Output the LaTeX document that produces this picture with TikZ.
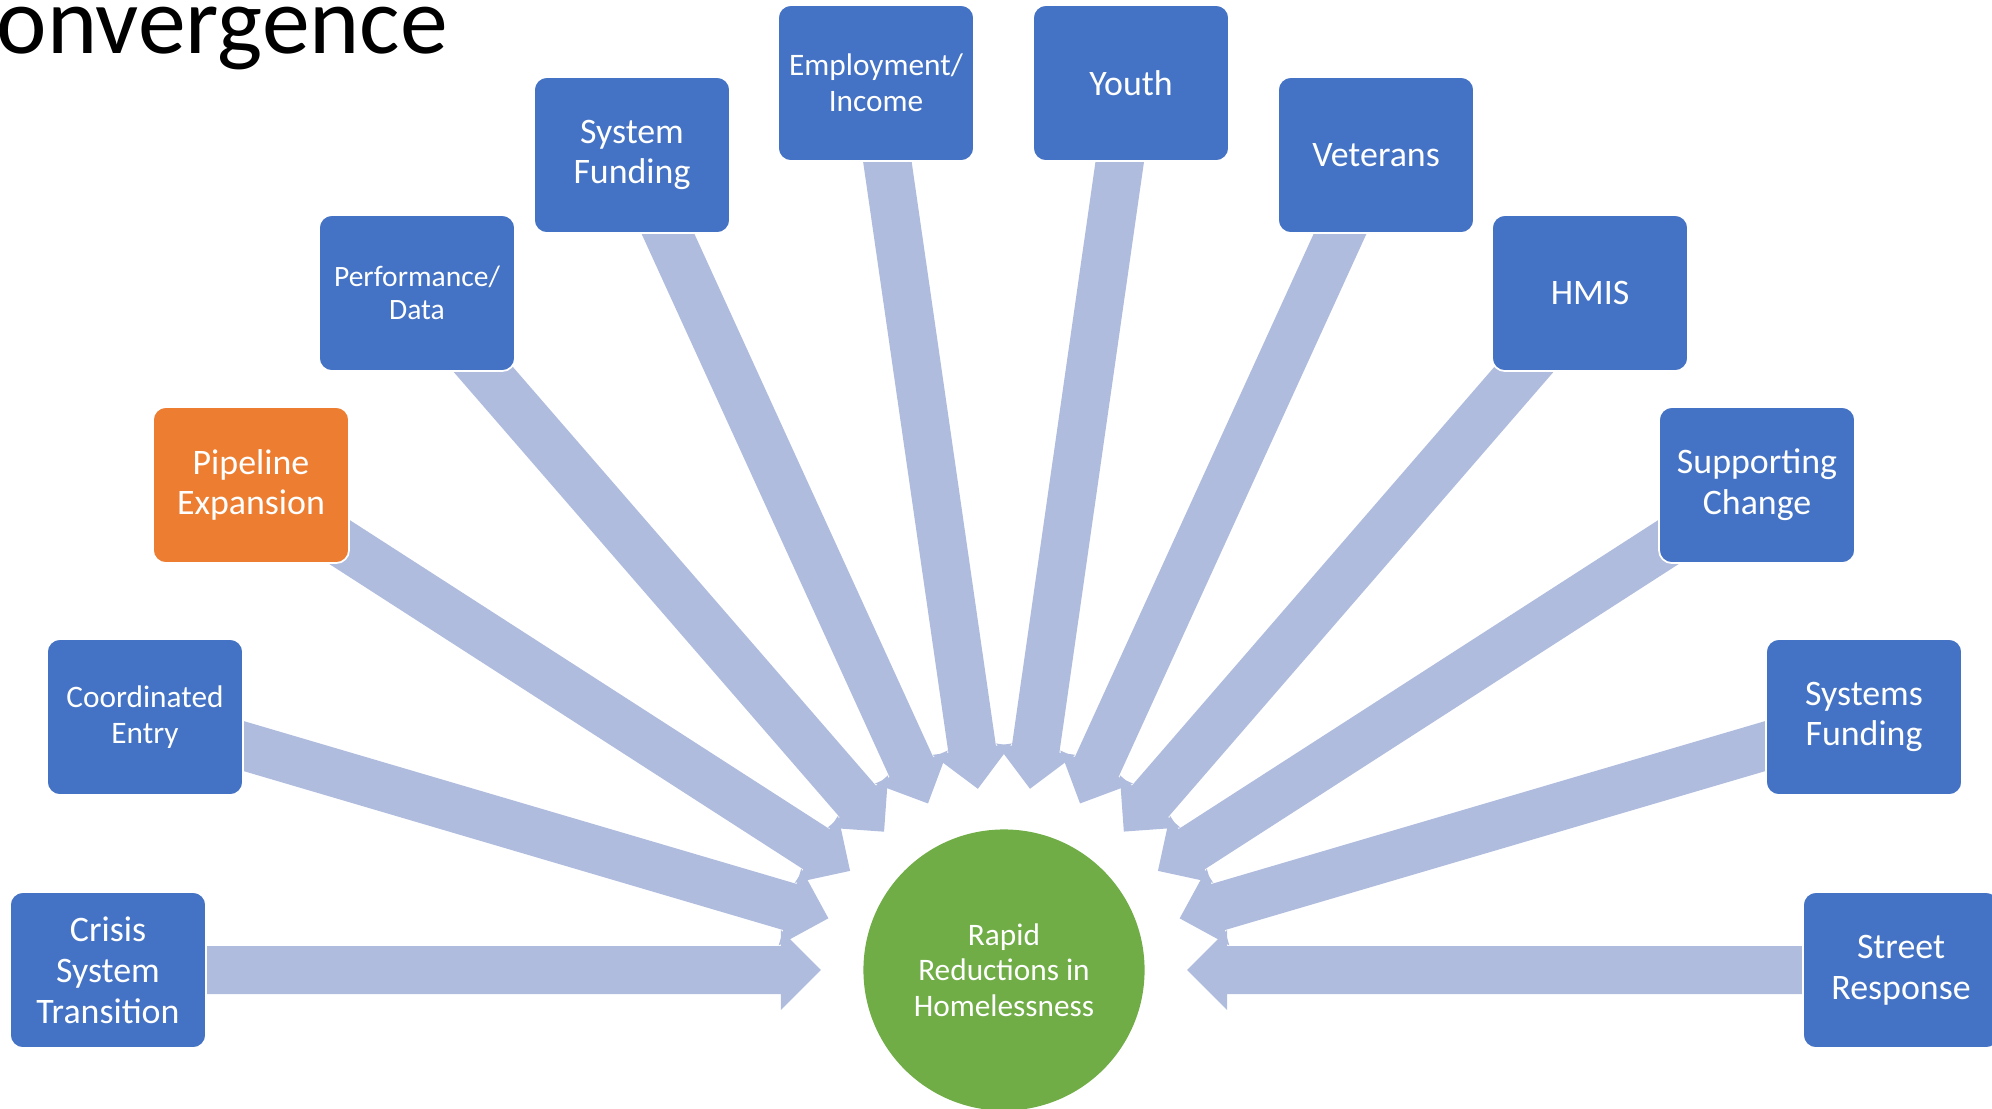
\documentclass[tikz,border=0pt]{standalone}
\usepackage{fontspec}
\setmainfont{Carlito}
\usetikzlibrary{calc,backgrounds}

\definecolor{boxblue}{HTML}{4472C4}
\definecolor{boxorange}{HTML}{ED7D31}
\definecolor{goalgreen}{HTML}{70AD47}
\definecolor{linkblue}{HTML}{AFBCDE}

\begin{document}
\begin{tikzpicture}[x=0.01cm, y=-0.01cm,
	topic/.style={draw=white, line width=0.5pt, fill=boxblue, rounded corners=0.13cm, minimum width=1.96cm, minimum height=1.56cm, inner sep=0pt, text=white, align=center, font=\fontsize{10.2}{11.6}\selectfont},
	smalltext/.style={font=\fontsize{8.9}{10.2}\selectfont},
	smallertext/.style={font=\fontsize{8.4}{9.5}\selectfont},
	goalnode/.style={circle, fill=goalgreen, minimum size=2.81cm, inner sep=0pt, text=white, align=center, font=\fontsize{8.9}{10.1}\selectfont},
	link/.style={fill=linkblue}]
			%\draw[help lines] (0,0) grid[step=100] (1992,1108);
			\useasboundingbox (0,0) rectangle (1992,1108);
			\clip (0,0) rectangle (1992,1108);

			\node[anchor=base west, inner sep=0pt, font=\fontsize{27.2}{30}\selectfont] (title) at (-4,53) {onvergence};

			% the goal in the middle
			\node[goalnode] (goal) at (1004,970) {Rapid\\Reductions in\\Homelessness};

			% left half
			\node[topic] (crisis) at (108,970) {Crisis\\System\\Transition};
			\node[topic, smalltext] (entry) at (145,717) {Coordinated\\Entry};
			\node[topic, fill=boxorange] (pipeline) at (251,485) {Pipeline\\Expansion};
			\node[topic, smallertext] (perf) at (417,293) {Performance/\\Data};
			\node[topic] (sysfund) at (632,155) {System\\Funding};
			\node[topic, smalltext] (employ) at (876,83) {Employment/\\Income};

			% right half
			\node[topic] (youth) at (1131,83) {Youth};
			\node[topic] (vets) at (1376,155) {Veterans};
			\node[topic] (hmis) at (1590,293) {HMIS};
			\node[topic] (support) at (1757,485) {Supporting\\Change};
			\node[topic] (sysfunds) at (1864,717) {Systems\\Funding};
			\node[topic] (street) at (1901,970) {Street\\Response};

			% block arrows, under the boxes
			\begin{scope}[on background layer]
				\foreach \n in {crisis,entry,pipeline,perf,sysfund,employ,youth,vets,hmis,support,sysfunds,street}
				{
					\coordinate (t) at ($(goal.center)!1.83cm!(\n.center)$);
					\coordinate (h) at ($(goal.center)!2.23cm!(\n.center)$);
					\fill[link] (t) -- ($(h)!0.4cm!90:(\n.center)$) -- ($(h)!0.24cm!90:(\n.center)$)
						-- ($(\n.center)!0.24cm!-90:(h)$) -- ($(\n.center)!0.24cm!90:(h)$)
						-- ($(h)!0.24cm!-90:(\n.center)$) -- ($(h)!0.4cm!-90:(\n.center)$) -- cycle;
				}
			\end{scope}
		\end{tikzpicture}
\end{document}
